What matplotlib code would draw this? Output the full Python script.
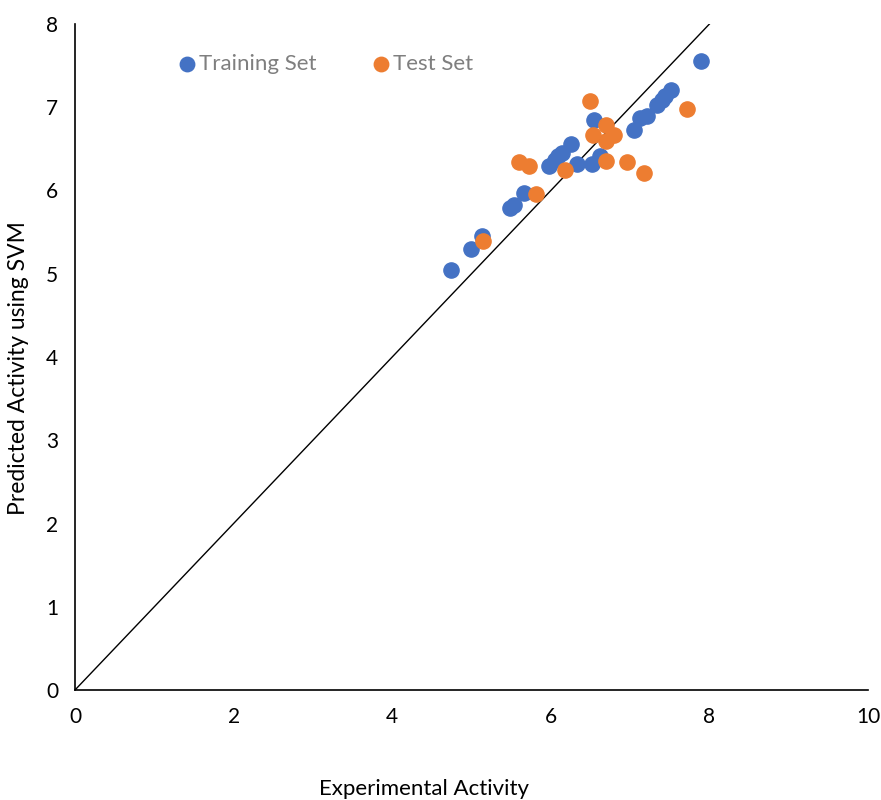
import matplotlib.pyplot as plt

plt.rcParams['font.family'] = ['Lato', 'DejaVu Sans']

train_x = [7.89, 7.52, 7.44, 7.40, 7.34, 7.21, 7.12, 7.05, 6.55, 6.25, 6.14, 6.09,
           6.05, 5.98, 6.33, 6.52, 6.62, 5.66, 5.53, 5.49, 5.13, 4.99, 4.74]
train_y = [7.56, 7.21, 7.13, 7.09, 7.03, 6.89, 6.87, 6.73, 6.85, 6.56, 6.45, 6.41,
           6.37, 6.29, 6.32, 6.32, 6.41, 5.97, 5.83, 5.79, 5.45, 5.30, 5.05]

test_x = [6.49, 7.72, 6.69, 6.53, 6.80, 6.70, 5.60, 5.72, 6.18, 6.70, 6.96, 7.18, 5.81, 5.14]
test_y = [7.07, 6.98, 6.79, 6.67, 6.67, 6.59, 6.34, 6.29, 6.25, 6.35, 6.34, 6.21, 5.96, 5.39]

fig = plt.figure(figsize=(8.81, 8), dpi=100)
ax = fig.add_axes([0.0851, 0.1375, 0.9002, 0.8325])

ax.scatter(train_x, train_y, s=120, color='#4472C4', label='Training Set', zorder=3)
ax.scatter(test_x, test_y, s=120, color='#ED7D31', label='Test Set', zorder=3)
ax.plot([0, 10], [0, 10], color='black', lw=1, zorder=2)

ax.set_xlim(0, 10)
ax.set_ylim(0, 8)
ax.set_xticks(range(0, 11, 2))
ax.set_yticks(range(0, 9))
ax.spines['top'].set_visible(False)
ax.spines['right'].set_visible(False)
ax.spines['left'].set_linewidth(1.2)
ax.spines['bottom'].set_linewidth(1.2)
ax.tick_params(length=0, labelsize=15, pad=12)

ax.set_xlabel('Experimental Activity', fontsize=16)
ax.xaxis.set_label_coords(0.44, -0.133)
ax.set_ylabel('Predicted Activity using SVM', fontsize=16.5)
ax.yaxis.set_label_coords(-0.058, 0.483)

leg = ax.legend(loc='upper left', bbox_to_anchor=(0.088, 0.985), ncol=2, frameon=False,
                fontsize=16, handletextpad=-0.45, columnspacing=1.9, markerscale=0.95)
for t in leg.get_texts():
    t.set_color('#7F7F7F')

fig.savefig('out.png', dpi=100)
